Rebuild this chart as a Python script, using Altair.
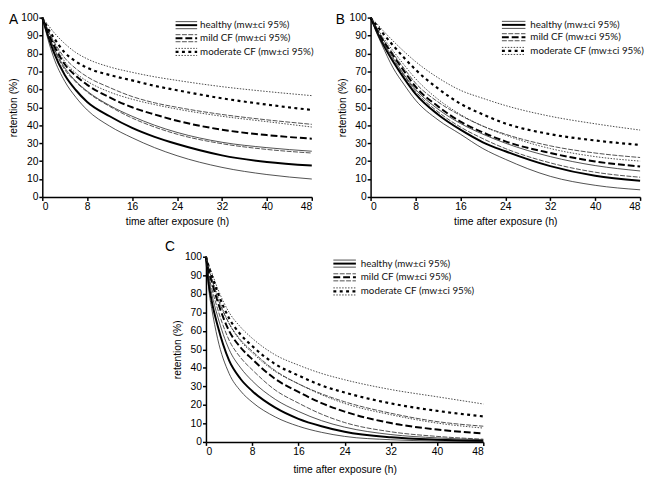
import altair as alt
import pandas as pd

# time points (h)
T = [0, 0.5, 1, 2, 4, 6, 8, 12, 16, 20, 24, 32, 40, 48]

# Panel A
A_h_lo = [100, 94, 88, 78, 64.5, 55.5, 48.5, 39.5, 33, 27.5, 23, 16.5, 12.5, 10]
A_h_mn = [100, 95, 90, 81, 68, 59.5, 53, 45, 38.5, 33.5, 29.5, 23.2, 19.5, 17.5]
A_h_hi = [100, 95.5, 91, 83.5, 72, 64.5, 59, 51, 45, 40, 36, 30.5, 27.5, 25.5]
A_m_lo = [100, 95.5, 91, 83, 71, 64, 58.5, 50.5, 44, 39, 35, 29.7, 26.5, 24.5]
A_m_mn = [100, 96, 92, 85, 74, 67.5, 62.5, 55.5, 50, 46, 42.5, 37.5, 34.5, 32.5]
A_m_hi = [100, 96.5, 93, 87, 77.5, 71.5, 67, 61, 56, 52.5, 50, 46, 43, 40.5]
A_o_lo = [100, 96.5, 93, 86.5, 75.5, 69, 64.5, 58.5, 54.5, 51.5, 49, 45, 42, 39]
A_o_mn = [100, 97, 94, 89, 80.5, 75.5, 72, 68, 65, 62, 59.5, 55, 51.5, 48.5]
A_o_hi = [100, 98, 96, 92, 85.5, 80.5, 77, 72.5, 69.5, 67, 65, 61.5, 58.8, 56.5]

# Panel B
B_h_lo = [100, 96, 92, 85, 72, 62.5, 54, 43, 35, 27, 21, 11.5, 6.5, 4]
B_h_mn = [100, 96.5, 93, 86.5, 75.5, 66, 57.5, 46, 37.5, 30.5, 25.5, 17.2, 11.8, 9]
B_h_hi = [100, 97, 93.5, 87.5, 77.5, 68, 60, 49, 41, 35, 30, 22.5, 17.5, 14.5]
B_m_lo = [100, 96.5, 93, 87, 76.5, 67.5, 59, 47.5, 39, 32.5, 27, 19, 13.8, 11]
B_m_mn = [100, 97, 94, 88.5, 79, 70, 61.5, 50.5, 42, 36, 31, 24.5, 19.8, 17]
B_m_hi = [100, 97.5, 94.5, 89, 80, 71.5, 63.5, 53, 45.5, 39.5, 35, 28.5, 24.5, 22]
B_o_lo = [100, 97.5, 95, 90, 81.5, 73.5, 66, 54.5, 46, 39.5, 34.5, 27, 22.5, 20]
B_o_mn = [100, 98, 96, 92, 84.5, 77.5, 71, 60.5, 52, 46, 41, 35, 31.5, 29]
B_o_hi = [100, 98.5, 97, 93.5, 87, 81, 75.5, 66.5, 59.5, 55, 51, 45, 40.8, 37.3]

# Panel C
C_h_lo = [100, 82, 72, 56, 37, 27.5, 21.5, 13.5, 8.5, 5.2, 3, 1.2, 0.5, 0.2]
C_h_mn = [100, 85, 76, 63, 44, 34, 27.5, 18.5, 12.5, 8.5, 5.5, 2.5, 1.2, 0.6]
C_h_hi = [100, 88, 80, 68, 50, 40, 33, 23, 16.5, 11.5, 8, 4, 2.2, 1.2]
C_m_lo = [100, 89.5, 83, 72, 55, 45.5, 39, 28, 21, 15, 10.5, 5.5, 3, 1.5]
C_m_mn = [100, 92, 86.5, 76, 60, 51, 44.7, 34, 27, 21, 16.4, 10.2, 6.7, 4.6]
C_m_hi = [100, 93, 88, 78, 64, 55, 49, 38.5, 31.4, 26, 21.7, 15.5, 11, 8.5]
C_o_lo = [100, 93.5, 88.5, 79, 64, 54.5, 48.2, 38, 31.4, 25.5, 20.8, 14.7, 10.2, 7.5]
C_o_mn = [100, 94.5, 90, 81, 66.8, 58, 51.8, 42, 35.9, 30.5, 26.7, 20.8, 16.8, 13.8]
C_o_hi = [100, 95.5, 91.5, 83, 70, 62, 56, 47, 41.5, 37, 33.6, 28.3, 24.4, 20.5]

GROUPS = ["healthy (mw\u00b1ci 95%)", "mild CF (mw\u00b1ci 95%)", "moderate CF (mw\u00b1ci 95%)"]
X_TICKS = [0, 8, 16, 24, 32, 40, 48]
Y_TICKS = [0, 10, 20, 30, 40, 50, 60, 70, 80, 90, 100]

# styles: (strokeWidth, dash, color)
STYLE = {
    "h_lo": (0.8, None, "#222222"),
    "h_mn": (2.0, None, "#000000"),
    "h_hi": (0.8, None, "#222222"),
    "m_lo": (0.8, [5, 1.5], "#222222"),
    "m_mn": (2.0, [7, 3], "#000000"),
    "m_hi": (0.8, [5, 1.5], "#222222"),
    "o_lo": (0.9, [1.5, 1.5], "#333333"),
    "o_mn": (2.2, [3, 3.5], "#000000"),
    "o_hi": (0.9, [1.5, 1.5], "#333333"),
}
ORDER = ["h_lo", "h_mn", "h_hi", "m_lo", "m_mn", "m_hi", "o_lo", "o_mn", "o_hi"]
LEG_KEYS = [["h_hi", "h_mn", "h_lo"], ["m_hi", "m_mn", "m_lo"], ["o_hi", "o_mn", "o_lo"]]

ONE = pd.DataFrame({"k": [0]})


def mark_kw(key):
    sw, dash, col = STYLE[key]
    kw = dict(strokeWidth=sw, color=col)
    if dash:
        kw["strokeDash"] = dash
    return kw


def panel(label, curves, w, h, leg_lx, leg_tx, leg_ty, xtitle_pad):
    xenc = alt.X("t:Q", scale=alt.Scale(domain=[0, 48], nice=False),
                 axis=alt.Axis(values=X_TICKS, title="time after exposure (h)",
                               titlePadding=xtitle_pad))
    yenc = alt.Y("v:Q", scale=alt.Scale(domain=[0, 100], nice=False),
                 axis=alt.Axis(values=Y_TICKS, title="retention (%)", titlePadding=2))
    layers = []
    for key in ORDER:
        df = pd.DataFrame({"t": T, "v": curves[key]})
        layers.append(alt.Chart(df).mark_line(interpolate="monotone", **mark_kw(key))
                      .encode(x=xenc, y=yenc))
    # legend
    for gi, gname in enumerate(GROUPS):
        ty = leg_ty[gi]
        for li, key in enumerate(LEG_KEYS[gi]):
            ly = ty + (li - 1) * 3.6
            layers.append(alt.Chart(ONE).mark_rule(**mark_kw(key)).encode(
                x=alt.value(leg_lx[0]), x2=alt.value(leg_lx[1]), y=alt.value(ly)))
        layers.append(alt.Chart(ONE).mark_text(text=gname, align="left", baseline="middle",
                                               font="Lato", fontSize=10, color="#111111")
                      .encode(x=alt.value(leg_tx), y=alt.value(ty)))
    layers.append(alt.Chart(ONE).mark_text(text=label[0], align="left", baseline="top",
                                           font="Liberation Sans", fontSize=14, color="#000000")
                  .encode(x=alt.value(label[1]), y=alt.value(label[2])))
    return alt.layer(*layers).properties(width=w, height=h)


def curves_of(prefix):
    g = globals()
    return {k: g[prefix + "_" + k] for k in ORDER}


pA = panel(("A", -34, -5), curves_of("A"), 275, 183, (136, 158), 161, [7.7, 21, 35], 5)
pB = panel(("B", -35.6, -5), curves_of("B"), 275, 183, (134, 158), 163, [7.4, 20, 34], 5)
pC = panel(("C", -41.7, -17), curves_of("C"), 283, 189, (130, 153), 158, [7, 21, 35.4], 8)

spacer = alt.Chart(ONE).mark_point(opacity=0, size=1).encode(
    x=alt.value(0), y=alt.value(0)).properties(width=125, height=10)

top = alt.hconcat(pA, pB, spacing=19)
bottom = alt.hconcat(spacer, pC, spacing=0)

chart = alt.vconcat(top, bottom, spacing=13).properties(
    padding={"left": 0, "top": 0, "right": 0, "bottom": 0}
).configure_view(
    stroke=None
).configure_axis(
    grid=False,
    domainColor="#000000", domainWidth=1.5,
    tickColor="#000000", tickWidth=1.5, tickSize=3.5,
    labelFont="Liberation Sans", labelFontSize=10.5, labelColor="#000000", labelPadding=1,
    titleFont="Liberation Sans", titleFontSize=10.5, titleColor="#000000",
    titleFontWeight="normal",
)

chart.save("out.html", embed_options={"renderer": "svg", "actions": False})
